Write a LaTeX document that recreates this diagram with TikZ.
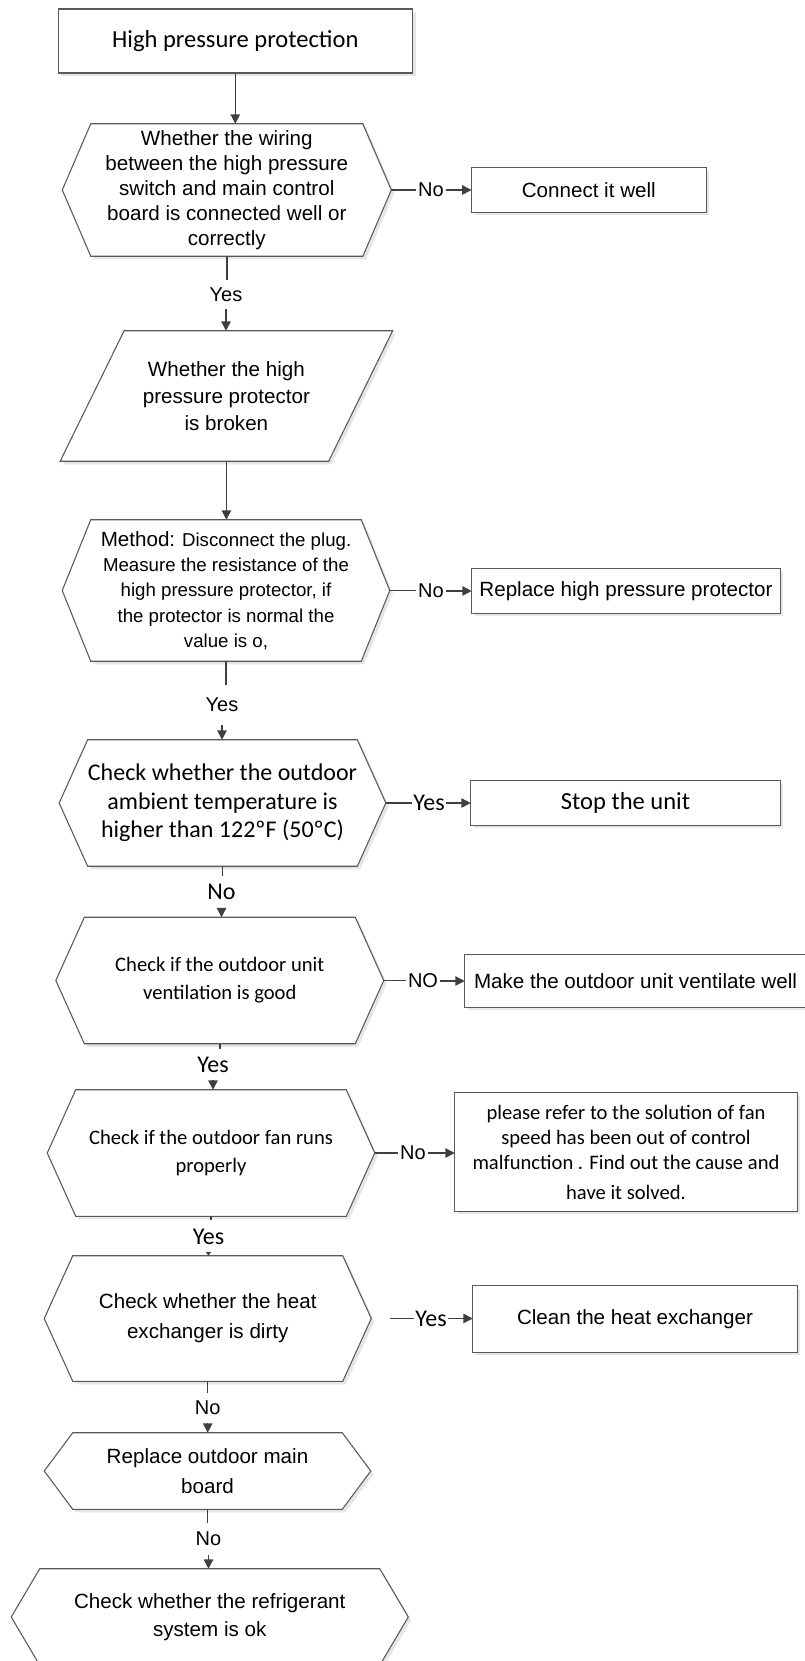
\documentclass[tikz,border=0pt]{standalone}
\usepackage{fontspec}
\setmainfont{Liberation Sans}
\newfontfamily\calibrifam{Carlito}
\usetikzlibrary{arrows.meta,calc}

\definecolor{edgegray}{HTML}{595959}
\definecolor{linkgray}{HTML}{3F3F3F}
\definecolor{shadegray}{HTML}{E6E6E6}

\pgfdeclarelayer{shapes}
\pgfsetlayers{shapes,main}

\tikzset{
  core/.style n args={2}{draw=none, inner sep=0pt, align=center,
    minimum width=#1*0.75pt, minimum height=#2*0.75pt},
  framed/.style={draw=edgegray, line width=0.8pt, fill=white, line join=miter},
  shade/.style={fill=shadegray},
  conn/.style={draw=linkgray, line width=1.1pt},
  arr/.style={conn, -{Triangle[length=7pt,width=7pt]}},
  tag/.style={inner sep=1.1pt, font=\fontsize{15}{18}\selectfont},
  ctag/.style={inner sep=1.1pt, font=\calibrifam\fontsize{18}{21}\selectfont},
  vtag/.style={inner sep=0pt, minimum height=#1*0.75pt},
  arial/.style={font=\fontsize{15.45}{#1}\selectfont},
  calib/.style={font=\calibrifam\fontsize{15.45}{#1}\selectfont},
}

% hexagonal decision outline around a core node, with a soft offset shadow
\newcommand\decisionoutline[1]{%
  \fill[shade] ($(#1.north west)+(3,3)$) -- ($(#1.north east)+(3,3)$) -- ($(#1.east)+(31.5,3)$)
    -- ($(#1.south east)+(3,3)$) -- ($(#1.south west)+(3,3)$) -- ($(#1.west)+(-25.5,3)$) -- cycle;
  \draw[framed] (#1.north west) -- (#1.north east) -- ($(#1.east)+(28.5,0)$)
    -- (#1.south east) -- (#1.south west) -- ($(#1.west)+(-28.5,0)$) -- cycle;
}
% plain process box
\newcommand\processoutline[1]{%
  \fill[shade] ($(#1.north west)+(3,3)$) rectangle ($(#1.south east)+(3,3)$);
  \draw[framed] (#1.north west) rectangle (#1.south east);
}
% parallelogram (input/output) with a given horizontal slant
\newcommand\slantoutline[2]{%
  \fill[shade] ($(#1.north west)+(#2+3,3)$) -- ($(#1.north east)+(#2+3,3)$)
    -- ($(#1.south east)+(-#2+3,3)$) -- ($(#1.south west)+(-#2+3,3)$) -- cycle;
  \draw[framed] ($(#1.north west)+(#2,0)$) -- ($(#1.north east)+(#2,0)$)
    -- ($(#1.south east)+(-#2,0)$) -- ($(#1.south west)+(-#2,0)$) -- cycle;
}

\begin{document}
\begin{tikzpicture}[x=0.75pt,y=-0.75pt]
\useasboundingbox (0,0) rectangle (804,1661);

% ---- shapes and their texts
\node[core={354}{63.5}, font=\calibrifam\fontsize{18.4}{22}\selectfont] (start) at (235.3,41) {High pressure protection};

\node[core={271.5}{132}, arial=18.75] (h1) at (226.8,190)
  {Whether the wiring\\between the high pressure\\switch and main control\\board is connected well or\\correctly};
\node[core={234}{44}, arial=18] (connect) at (588.8,190) {Connect it well};

\node[core={268}{130}, arial=20] (pg) at (226.4,396)
  {Whether the high\\pressure protector\\is broken};

\node[core={270}{141}, font=\fontsize{14}{19}\selectfont] (h3) at (226,590.5)
  {{\fontsize{15.45}{19}\selectfont Method:} Disconnect the plug.\\Measure the resistance of the\\high pressure protector, if\\the protector is normal the\\value is o,};
\node[core={308}{44}, arial=18] (replace) at (626,591) {Replace high pressure protector};

\node[core={269}{126}, font=\calibrifam\fontsize{18}{21.4}\selectfont] (h4) at (222.5,803)
  {Check whether the outdoor\\ambient temperature is\\higher than 122ºF (50ºC)};
\node[core={309}{44}, font=\calibrifam\fontsize{18.4}{22}\selectfont] (stop) at (625.5,803) {Stop the unit};

\node[core={270.4}{126}, calib=21] (h5) at (219.8,980.5)
  {Check if the outdoor unit\\ventilation is good};
\node[core={341}{52}, arial=18] (make) at (635.5,981) {Make the outdoor unit ventilate well};

\node[core={270}{126}, calib=21] (h6) at (211,1153)
  {Check if the outdoor fan runs\\properly};
\node[core={342}{118}, calib=19] (fan) at (626,1152)
  {please refer to the solution of fan\\speed has been out of control\\malfunction . Find out the cause and\\[3pt]have it solved.};

\node[core={269.5}{125}, arial=22.5] (h7) at (207.75,1318.5)
  {Check whether the heat\\exchanger is dirty};
\node[core={324}{66}, arial=18] (clean) at (635,1319) {Clean the heat exchanger};

\node[core={269}{76}, arial=22.5] (h8) at (207.5,1471) {Replace outdoor main\\board};

\node[core={339.5}{96}, arial=21] (h9) at (209.75,1617)
  {Check whether the refrigerant\\system is ok};

\begin{pgfonlayer}{shapes}
  \processoutline{start}
  \decisionoutline{h1}  \processoutline{connect}
  \slantoutline{pg}{32}
  \decisionoutline{h3}  \processoutline{replace}
  \decisionoutline{h4}  \processoutline{stop}
  \decisionoutline{h5}  \processoutline{make}
  \decisionoutline{h6}  \processoutline{fan}
  \decisionoutline{h7}  \processoutline{clean}
  \decisionoutline{h8}
  \decisionoutline{h9}
\end{pgfonlayer}

% ---- tips of the decision shapes
\coordinate (h1r) at ($(h1.east)+(28.5,0)$);
\coordinate (h3r) at ($(h3.east)+(28.5,0)$);
\coordinate (h4r) at ($(h4.east)+(28.5,0)$);
\coordinate (h5r) at ($(h5.east)+(28.5,0)$);
\coordinate (h6r) at ($(h6.east)+(28.5,0)$);
\coordinate (g7) at (390,1318.5);

% ---- branch labels
\node[tag]  (l1) at (431,190) {No};
\node[tag]  (l3) at (431,591) {No};
\node[ctag] (l4) at (429,803) {Yes};
\node[tag]  (l5) at (423,981) {NO};
\node[tag]  (l6) at (413,1153) {No};
\node[ctag] (l7) at (431,1318.5) {Yes};

\node[tag,  vtag=29] (y1) at (226,294.5) {Yes};
\node[tag,  vtag=40] (y3) at (222,705) {Yes};
\node[ctag, vtag=32] (n4) at (221.5,892) {No};
\node[ctag, vtag=31] (y5) at (213,1064.5) {Yes};
\node[ctag, vtag=33] (y6) at (208.5,1236.5) {Yes};
\node[tag,  vtag=30] (n7) at (207.7,1408) {No};
\node[tag,  vtag=32] (n8) at (208.5,1539) {No};

% ---- side branches
\draw[conn] (h1r) -- (h1r -| l1.west);   \draw[arr] (l1.east) -- (l1.east -| connect.west);
\draw[conn] (h3r) -- (h3r -| l3.west);   \draw[arr] (l3.east) -- (l3.east -| replace.west);
\draw[conn] (h4r) -- (h4r -| l4.west);   \draw[arr] (l4.east) -- (l4.east -| stop.west);
\draw[conn] (h5r) -- (h5r -| l5.west);   \draw[arr] (l5.east) -- (l5.east -| make.west);
\draw[conn] (h6r) -- (h6r -| l6.west);   \draw[arr] (l6.east) -- (l6.east -| fan.west);
\draw[conn] (g7)  -- (g7 -| l7.west);    \draw[arr] (l7.east) -- (l7.east -| clean.west);

% ---- main flow
\draw[arr]  (start.south) -- (start.south |- h1.north);
\draw[conn] (h1.south) -- (h1.south |- y1.north);
\draw[arr]  (y1.south) -- (y1.south |- pg.north);
\draw[arr]  (pg.south) -- (pg.south |- h3.north);
\draw[conn] (h3.south) -- (h3.south |- y3.north);
\draw[arr]  (y3.south) -- (y3.south |- h4.north);
\draw[conn] (h4.south) -- (h4.south |- n4.north);
\draw[arr]  (n4.south) -- (n4.south |- h5.north);
\draw[conn] (h5.south) -- (h5.south |- y5.north);
\draw[arr]  (y5.south) -- (y5.south |- h6.north);
\draw[conn] (h6.south) -- (h6.south |- y6.north);
\draw[conn, -{Triangle[length=3pt,width=4pt]}] (y6.south) -- (y6.south |- h7.north);
\draw[conn] (h7.south) -- (h7.south |- n7.north);
\draw[arr]  (n7.south) -- (n7.south |- h8.north);
\draw[conn] (h8.south) -- (h8.south |- n8.north);
\draw[arr]  (n8.south) -- (n8.south |- h9.north);
\end{tikzpicture}
\end{document}
